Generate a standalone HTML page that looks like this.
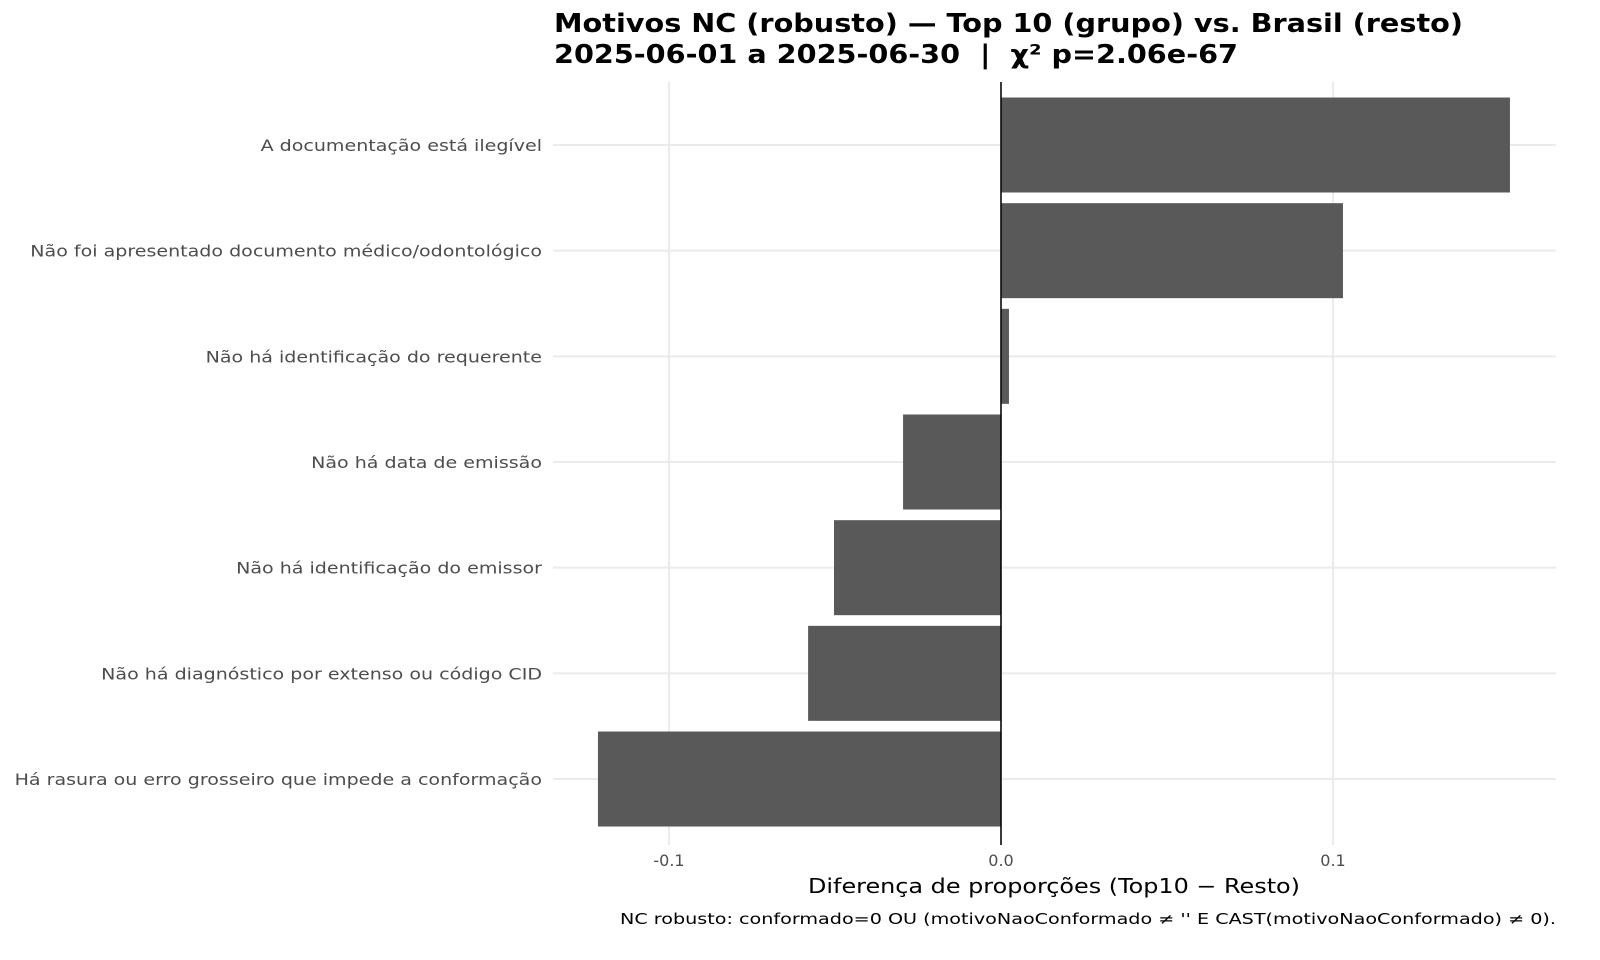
<!DOCTYPE html>
<html><head><meta charset="utf-8"><style>
html,body{margin:0;padding:0;background:#fff;}
svg{display:block;font-family:"DejaVu Sans","Liberation Sans",sans-serif;}
text{white-space:pre;}
</style></head><body>
<svg id="chart" width="1600" height="960" viewBox="0 0 1600 960">
<text x="554" y="32" font-size="26" font-weight="bold" fill="#000" textLength="909" lengthAdjust="spacingAndGlyphs">Motivos NC (robusto) — Top 10 (grupo) vs. Brasil (resto)</text>
<text x="554" y="63" font-size="26" font-weight="bold" fill="#000" textLength="684" lengthAdjust="spacingAndGlyphs">2025-06-01 a 2025-06-30  |  χ² p=2.06e-67</text>
<g id="grid"></g>
<g id="bars"></g>
<g id="ylabels"></g>
<g id="xlabels"></g>
<text x="808" y="893" font-size="20" fill="#000" textLength="492" lengthAdjust="spacingAndGlyphs">Diferença de proporções (Top10 − Resto)</text>
<text x="620" y="924" font-size="15" fill="#000" textLength="936" lengthAdjust="spacingAndGlyphs">NC robusto: conformado=0 OU (motivoNaoConformado ≠ '' E CAST(motivoNaoConformado) ≠ 0).</text>
</svg>
<script>
const categories = ["A documentação está ilegível","Não foi apresentado documento médico/odontológico","Não há identificação do requerente","Não há data de emissão","Não há identificação do emissor","Não há diagnóstico por extenso ou código CID","Há rasura ou erro grosseiro que impede a conformação"];
const values = [0.1533, 0.1030, 0.0024, -0.0295, -0.0503, -0.0581, -0.1214];
const xTicks = [-0.1, 0.0, 0.1];
const xTickLabels = ["-0.1","0.0","0.1"];

const NS="http://www.w3.org/2000/svg";
const panelL=553, panelR=1556, panelT=82, panelB=845;
const x = v => 1001 + v*3320;
const rowStep = 105.67, firstCenter = 145, barH = 95;
const y = i => firstCenter + i*rowStep;
function mk(tag, attrs, parent){const e=document.createElementNS(NS,tag);for(const k in attrs)e.setAttribute(k,attrs[k]);parent.appendChild(e);return e;}
const grid=document.getElementById('grid'), bars=document.getElementById('bars'), yl=document.getElementById('ylabels'), xl=document.getElementById('xlabels');
xTicks.forEach((t,i)=>{
  const g=mk('line',{x1:x(t),x2:x(t),y1:panelT,y2:panelB,stroke:'#ebebeb','stroke-width':2},grid);
  
  
  const tx=mk('text',{x:x(t),y:866,'font-size':16,'text-anchor':'middle',fill:'#4d4d4d'},xl);
  tx.textContent=xTickLabels[i];
  
  
});
categories.forEach((c,i)=>{
  const g=mk('line',{x1:panelL,x2:panelR,y1:y(i),y2:y(i),stroke:'#ebebeb','stroke-width':2},grid);
  
  
  const v=values[i];
  const r=mk('rect',{x:Math.min(x(0),x(v)),y:y(i)-barH/2,width:Math.abs(x(v)-x(0)),height:barH,fill:'#595959'},bars);
  
  
  const tx=mk('text',{x:542,y:y(i)+6,'font-size':16,'text-anchor':'end',fill:'#4d4d4d'},yl);
  tx.textContent=c;
  
  
  const w=tx.getComputedTextLength();
  tx.setAttribute('textLength', (w*1.19).toFixed(1));
  tx.setAttribute('lengthAdjust','spacingAndGlyphs');
});
const z=mk('line',{x1:x(0),x2:x(0),y1:panelT,y2:panelB,stroke:'#000','stroke-width':1.5},bars);


</script>
</body></html>
